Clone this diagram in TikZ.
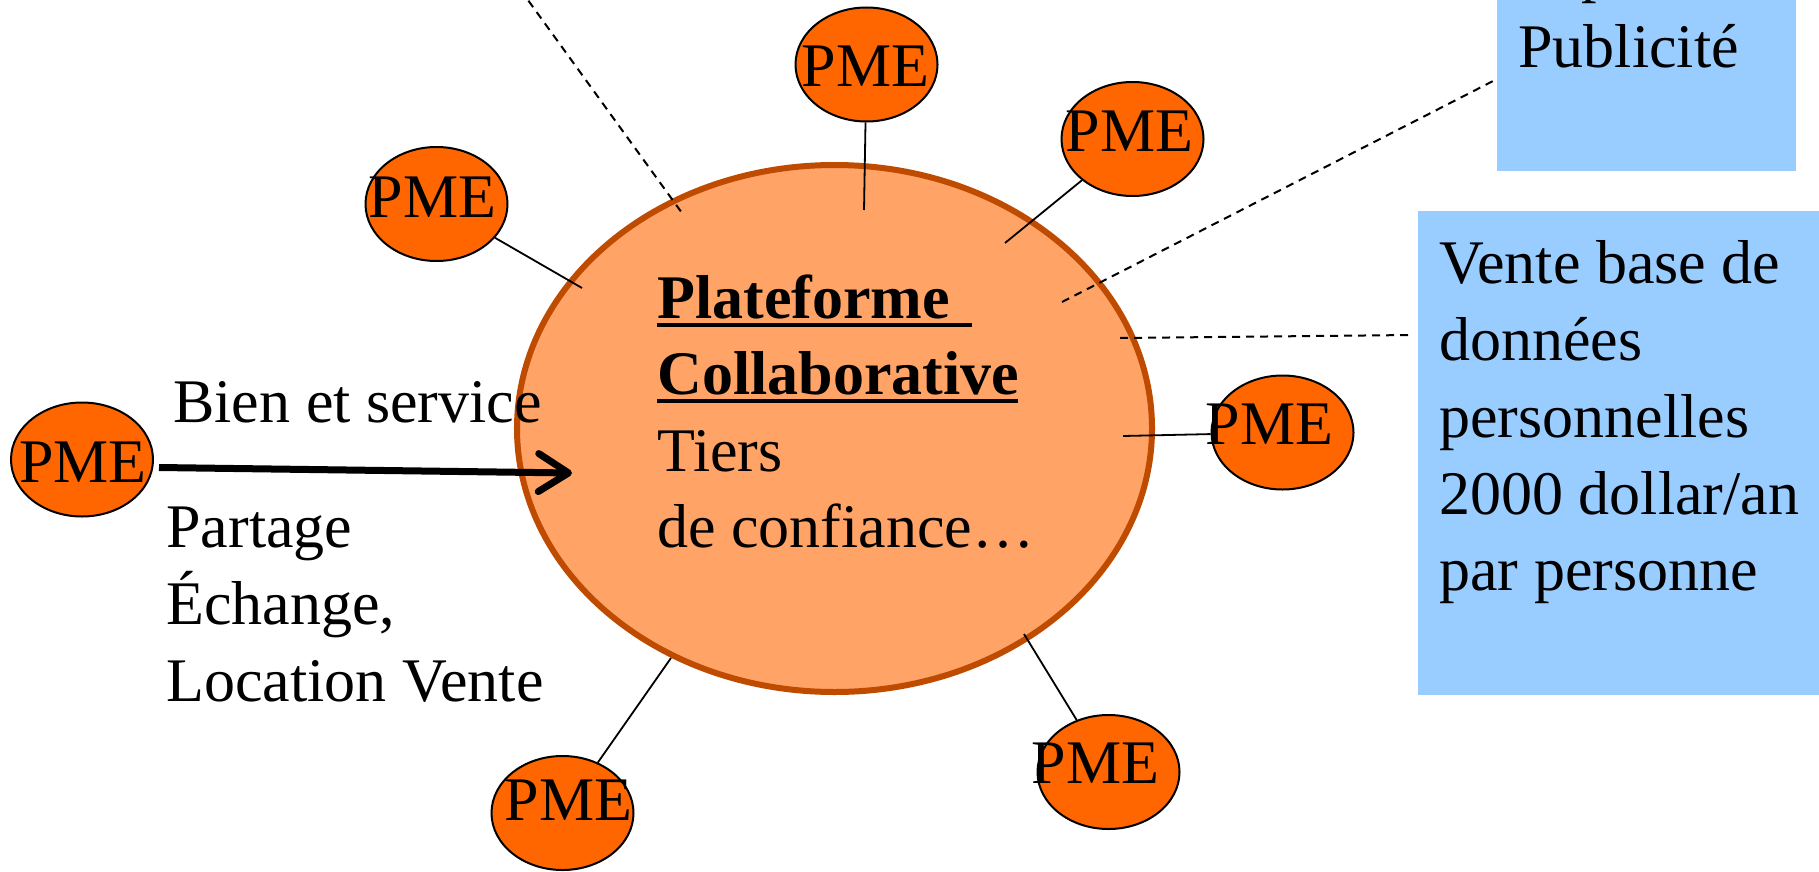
\documentclass[tikz,border=0pt]{standalone}
\usepackage{fontspec}
\setmainfont{Liberation Serif}
\usetikzlibrary{shapes.geometric,arrows.meta}
\definecolor{platfill}{RGB}{255,163,102}
\definecolor{platedge}{RGB}{190,75,0}
\definecolor{pmefill}{RGB}{255,102,0}
\definecolor{boxblue}{RGB}{153,204,255}
\begin{document}
\begin{tikzpicture}[x=0.5pt,y=-0.5pt,
  txt/.style={anchor=base west, inner sep=0pt, font=\fontsize{31}{38}\selectfont},
  btxt/.style={anchor=base west, inner sep=0pt, font=\fontsize{31}{38}\selectfont\bfseries},
  pme/.style={ellipse, draw=black, line width=1pt, fill=pmefill, minimum width=71pt, minimum height=57pt, inner sep=0pt},
  pmelbl/.style={inner sep=0pt, font=\fontsize{31}{38}\selectfont},
  link/.style={draw=black, line width=0.9pt},
  dashlink/.style={draw=black, line width=1pt, dash pattern=on 4pt off 3pt},
  ulrule/.style={draw=black, line width=2pt},
  infobox/.style={rectangle, fill=boxblue, inner sep=0pt}]
\useasboundingbox (0,0) rectangle (1819,872);

% main platform
\node[ellipse, draw=platedge, line width=3pt, fill=platfill, minimum width=317.5pt, minimum height=263.5pt, inner sep=0pt] (plat) at (834.5,428.5) {};

% info boxes
\node[infobox, anchor=south west, minimum width=149.5pt, minimum height=115.5pt] (box1) at (1497,171) {};
\node[infobox, anchor=north west, minimum width=210pt, minimum height=242pt] (box2) at (1418,211) {};

% PME nodes
\node[pme, label={[pmelbl, shift={(1,3)}]center:PME}] (pmeL) at (82,459.5) {};
\node[pme, label={[pmelbl, shift={(-4,-6.5)}]center:PME}] (pmeUL) at (436.5,204) {};
\node[pme, label={[pmelbl, shift={(-1,2)}]center:PME}] (pmeT) at (866.5,64.5) {};
\node[pme, label={[pmelbl, shift={(-3,-8)}]center:PME}] (pmeTR) at (1132.5,139) {};
\node[pme, label={[pmelbl, shift={(-13,-8.5)}]center:PME}] (pmeR) at (1282.5,432.5) {};
\node[pme, label={[pmelbl, shift={(-13,-8.5)}]center:PME}] (pmeBR) at (1108.5,772) {};
\node[pme, label={[pmelbl, shift={(6,-12.5)}]center:PME}] (pmeBL) at (562.5,813) {};

% connector ends inside the platform
\coordinate (eUL) at (582,288);
\coordinate (eT) at (864,210);
\coordinate (eTR) at (1005,243);
\coordinate (eR) at (1123,436);
\coordinate (eBR) at (1024,634);
\coordinate (eBL) at (671,658);
\draw[link] (pmeUL) -- (eUL);
\draw[link] (pmeT) -- (eT);
\draw[link] (pmeTR) -- (eTR);
\draw[link] (pmeR) -- (eR);
\draw[link] (pmeBR) -- (eBR);
\draw[link] (pmeBL) -- (eBL);

% dashed lines
\coordinate (dTLs) at (512,-22);
\coordinate (dTLe) at (682,213);
\coordinate (dB1) at (1062,302);
\coordinate (dB2) at (1120,338);
\draw[dashlink] (dTLs) -- (dTLe);
\draw[dashlink] (dB1) -- ([shift={(0,-92)}]box1.south west);
\draw[dashlink] (dB2) -- ([shift={(-5,124)}]box2.north west);

% platform text
\node[btxt] (plat1) at (657,318) {Plateforme};
\node[btxt] (plat2) at (657,394) {Collaborative};
\node[txt] (tiers) at (657,471) {Tiers};
\node[txt] (confiance) at (657,547) {de confiance…};
\draw[ulrule] ([shift={(0,7)}]plat1.base west) -- ([shift={(315,7)}]plat1.base west);
\draw[ulrule] ([shift={(0,7)}]plat2.base west) -- ([shift={(361,7)}]plat2.base west);

% left text and arrow
\node[txt] (bien) at (173,422) {Bien et service};
\node[txt] (partage) at (166,547) {Partage};
\node[txt] (echange) at (166,624) {Échange,};
\node[txt] (location) at (166,701) {Location Vente};
\coordinate (arrTip) at (572,473);
\draw[line width=3.5pt, -{Straight Barb[length=15pt,width=19pt,round]}] ([shift={(5,8)}]pmeL.east) -- (arrTip);

% box texts
\node[txt] (pub0) at (1581,-9) {p};
\node[txt] (pub) at (1518,68) {Publicité};
\node[txt] (v1) at (1439,283) {Vente base de};
\node[txt] (v2) at (1439,360) {données};
\node[txt] (v3) at (1439,437) {personnelles};
\node[txt] (v4) at (1439,514) {2000 dollar/an};
\node[txt] (v5) at (1439,590) {par personne};
\end{tikzpicture}
\end{document}
